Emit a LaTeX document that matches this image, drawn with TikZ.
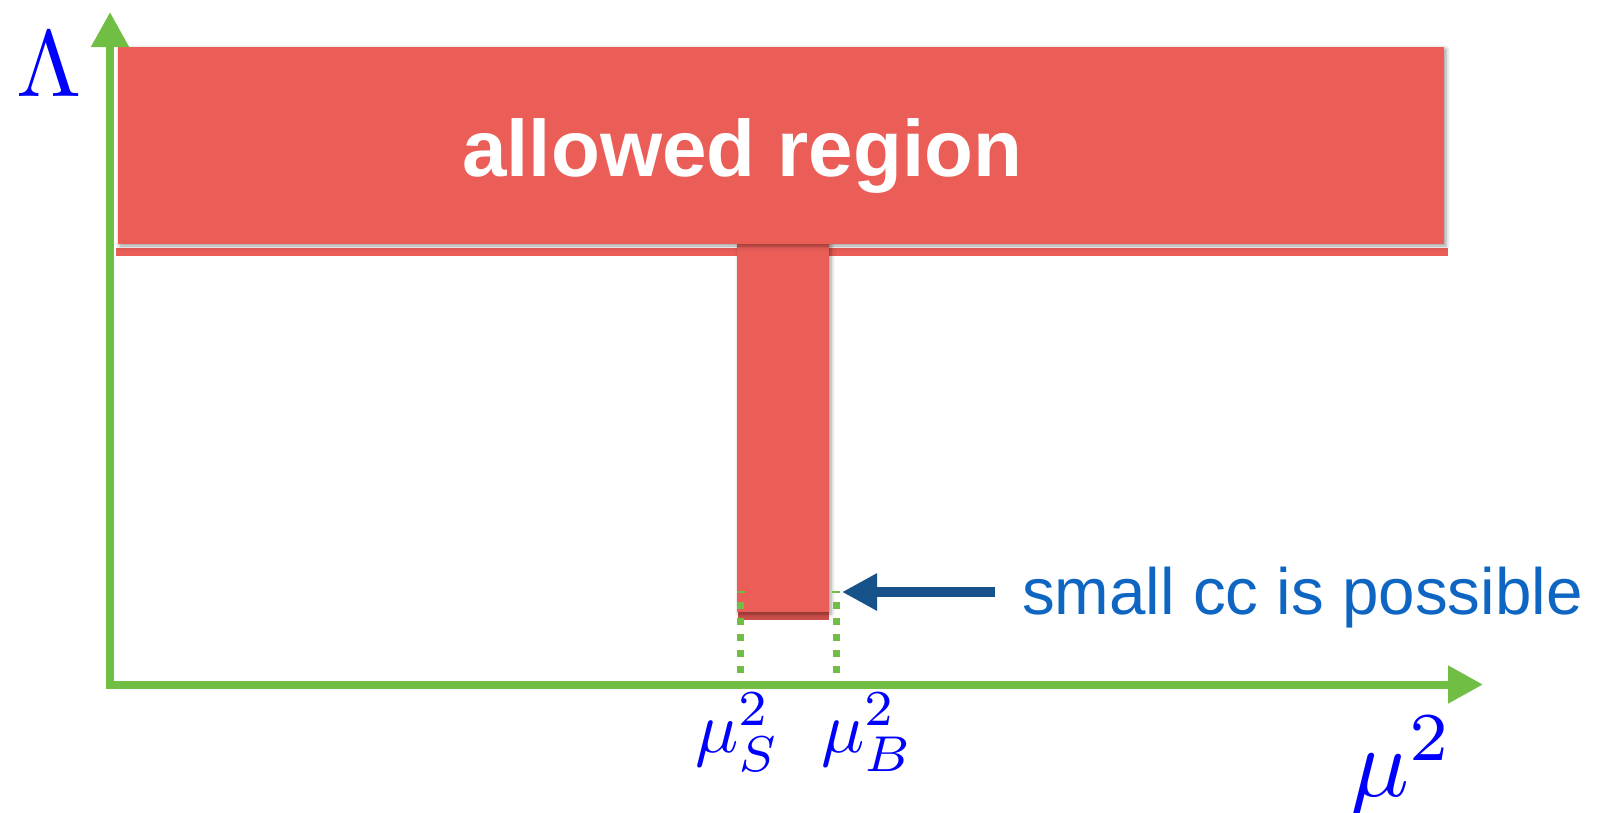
\documentclass[tikz,border=0pt]{standalone}
\usepackage{fontspec}
\newfontfamily\labelsans{Liberation Sans}
\usetikzlibrary{arrows.meta,shadows.blur}

\definecolor{regionred}{RGB}{235,94,88}
\definecolor{regionreddark}{RGB}{208,80,75}
\definecolor{axisgreen}{RGB}{112,190,68}
\definecolor{pointerblue}{RGB}{24,82,138}
\definecolor{noteblue}{RGB}{14,102,194}
\definecolor{mathblue}{RGB}{0,0,255}

% math symbols are set at 10pt and enlarged
\newcommand{\bigmath}[2]{\scalebox{#1}{$#2$}}

\begin{document}
\begin{tikzpicture}[x=1pt,y=-1pt,
  axis/.style={draw=axisgreen, line width=8pt, -{Triangle[length=35pt,width=36pt]}},
  marker/.style={draw=axisgreen, line width=7pt, dash pattern=on 7pt off 9pt},
  pointer/.style={draw=pointerblue, line width=10pt, -{Triangle[length=35pt,width=35pt]}},
  slab/.style={fill=regionred, blur shadow={shadow xshift=2pt, shadow yshift=-2pt,
      shadow blur radius=4pt, shadow opacity=40}},
  mathlabel/.style={anchor=base west, inner sep=0pt, text=mathblue, font=\fontsize{10}{12}\selectfont},
]
\useasboundingbox (0,0) rectangle (1597,812);

% thin band under the allowed region
\fill[regionred] (116,248) rectangle (1448,256);

% narrow column reaching down to small values
\fill[regionreddark] (738,612) rectangle (829,620);
\path[slab] (737,240) rectangle (829,612);

% allowed region
\path[slab] (118,47) rectangle (1444,244);
\node[anchor=base west, inner sep=0pt, text=white,
      font={\labelsans\bfseries\fontsize{80}{96}\selectfont}] (title) at (462,176) {allowed region};

% axes
\coordinate (origin) at (110,684.5);
\coordinate (xend) at (1483,684.5);
\coordinate (ybottom) at (110,689);
\coordinate (yend) at (110,12);
\draw[axis] ([xshift=-4pt]origin) -- (xend);
\draw[axis] (ybottom) -- (yend);

\node[mathlabel] (lambda) at (16,96) {\bigmath{9.4}{\Lambda}};
\node[mathlabel] (musq) at (1350,796) {\bigmath{9.8}{\mu^2}};

% markers for the two scales
\coordinate (sTop) at (740.5,602);
\coordinate (sBot) at (740.5,689);
\coordinate (bTop) at (836,602);
\coordinate (bBot) at (836,689);
\draw[marker] (sTop) -- (sBot);
\draw[marker] (bTop) -- (bBot);
\draw[axisgreen, line width=2pt] (737,592) -- (745,592);
\draw[axisgreen, line width=2pt] (832,592) -- (840,592);

\node[mathlabel] (muS) at (695,752) {\bigmath{7.2}{\mu_S^2}};
\node[mathlabel] (muB) at (821,752) {\bigmath{7.2}{\mu_B^2}};

% annotation
\node[anchor=base west, inner sep=0pt, text=noteblue,
      font={\labelsans\fontsize{65.5}{78}\selectfont}] (note) at (1022,614) {small cc is possible};
\coordinate (tail) at (995,592);
\coordinate (tip) at (842,592);
\draw[pointer] (tail) -- (tip);
\end{tikzpicture}
\end{document}
